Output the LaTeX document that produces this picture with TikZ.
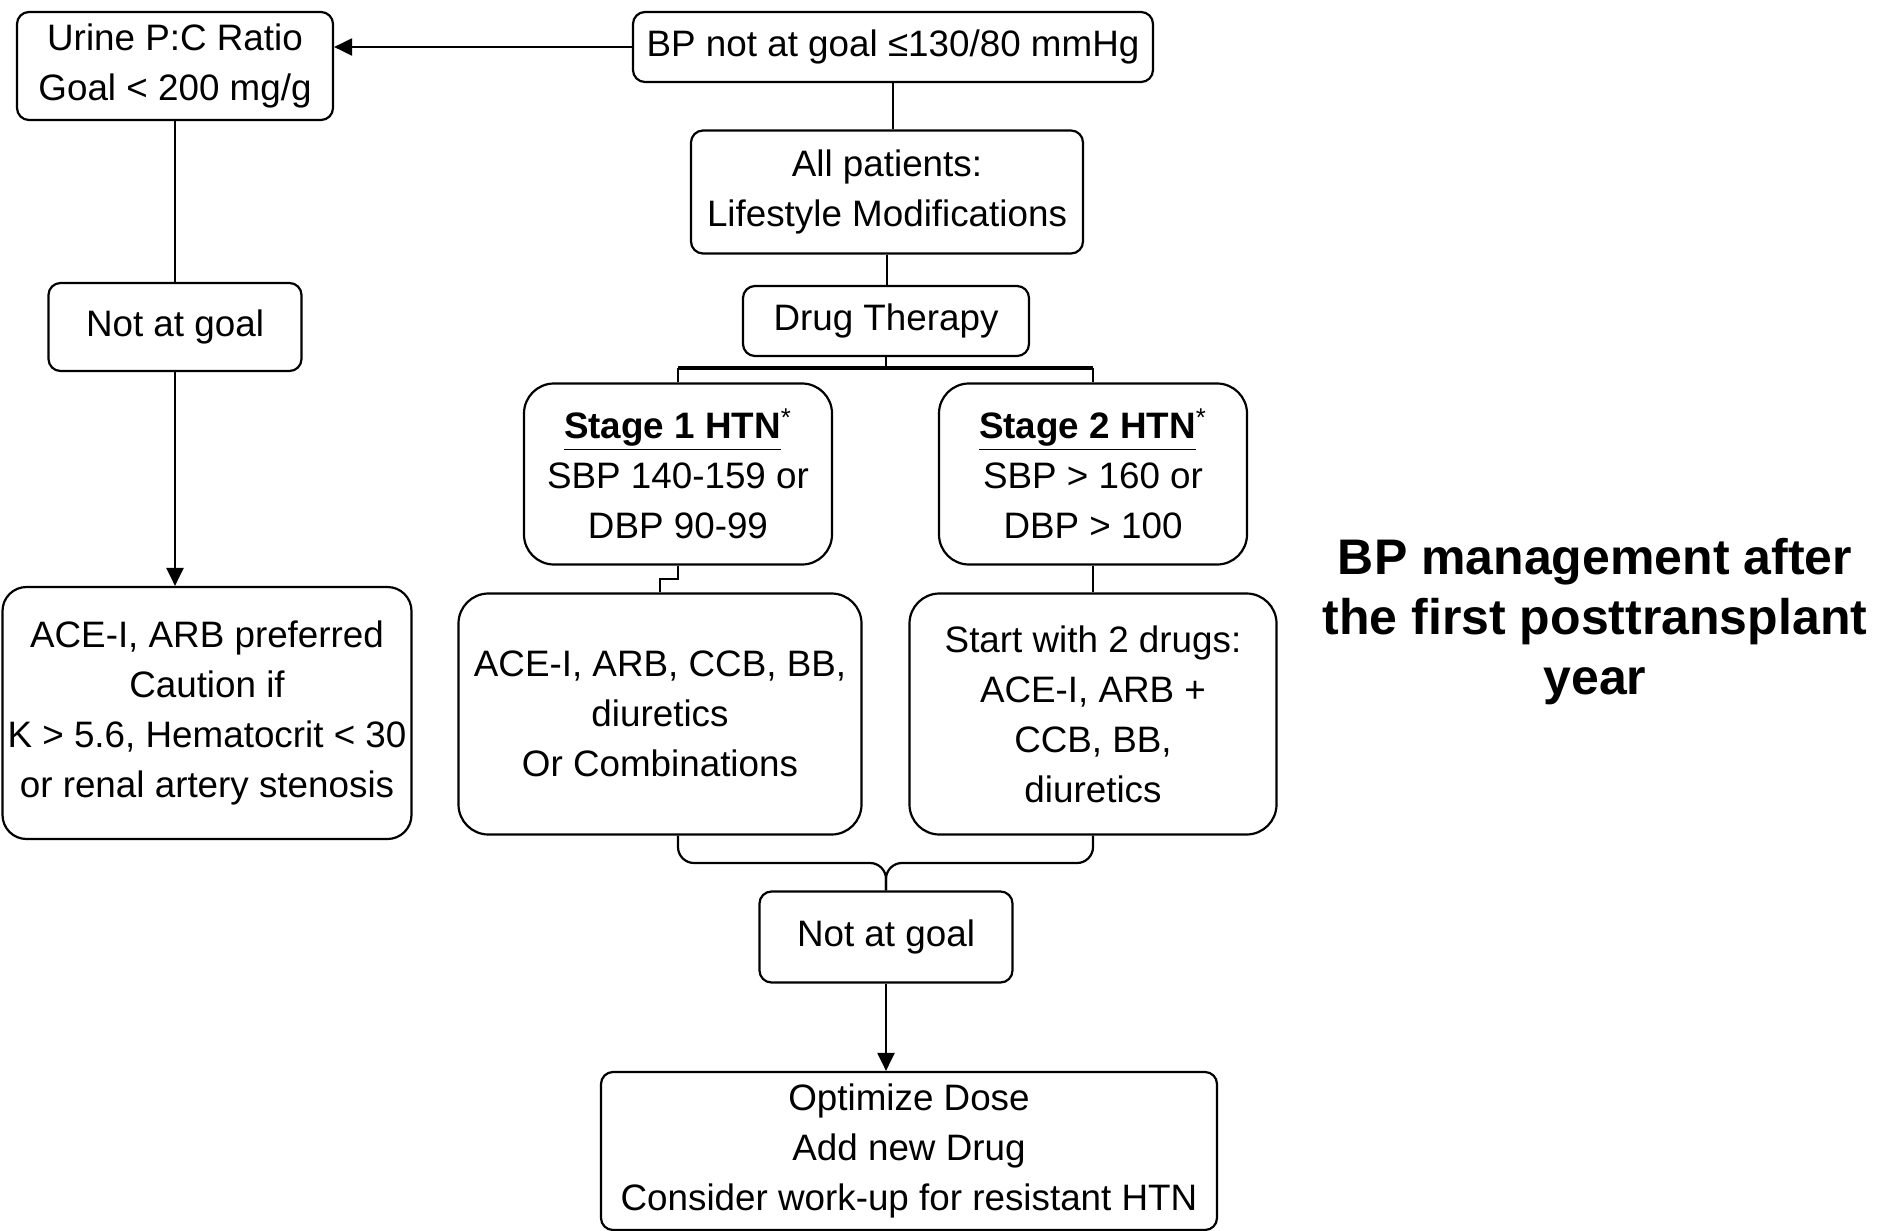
\documentclass[tikz,border=0pt]{standalone}
\usepackage{fontspec}
\setmainfont{Liberation Sans}
\usetikzlibrary{arrows.meta}
\begin{document}
\begin{tikzpicture}[x=0.5pt, y=-0.5pt]
  \tikzstyle{flowbox}=[draw, rounded corners=6pt, line width=1.1pt, align=center, inner sep=0pt,
                       font=\fontsize{18.4}{25}\selectfont]
  \tikzstyle{bigbox}=[flowbox, rounded corners=15pt]
  \tikzstyle{link}=[line width=1.1pt]
  \tikzstyle{flowarrow}=[link, -{Triangle[length=9pt,width=8.5pt]}]
  \useasboundingbox (0,0) rectangle (1880,1231);

  \node[flowbox, minimum width=158pt, minimum height=54pt] (urine) at (175,66) {Urine P:C Ratio\\Goal < 200 mg/g};
  \node[flowbox, minimum width=260pt, minimum height=35pt] (bp) at (893,47) {BP not at goal ≤130/80 mmHg};
  \node[flowbox, minimum width=196pt, minimum height=61.5pt] (allpat) at (887,192) {All patients:\\Lifestyle Modifications};
  \node[flowbox, minimum width=143pt, minimum height=35pt] (drug) at (886,321) {Drug Therapy};
  \node[bigbox, minimum width=154pt, minimum height=90.5pt] (stage1) at (678,474)
       {\underline{\textbf{Stage 1 HTN}}\textsuperscript{*}\\SBP 140-159 or\\DBP 90-99};
  \node[bigbox, minimum width=154pt, minimum height=90.5pt] (stage2) at (1093,474)
       {\underline{\textbf{Stage 2 HTN}}\textsuperscript{*}\\SBP > 160 or\\DBP > 100};
  \node[bigbox, minimum width=201.5pt, minimum height=120.5pt] (drugsone) at (660,714)
       {ACE-I, ARB, CCB, BB,\\diuretics\\Or Combinations};
  \node[bigbox, minimum width=183.5pt, minimum height=120.5pt] (drugstwo) at (1093,714)
       {Start with 2 drugs:\\ACE-I, ARB +\\CCB, BB,\\diuretics};
  \node[flowbox, minimum width=126.5pt, minimum height=45.5pt] (goalmid) at (886,937) {Not at goal};
  \node[flowbox, minimum width=308pt, minimum height=79pt] (optimize) at (909,1151)
       {Optimize Dose\\Add new Drug\\Consider work-up for resistant HTN};
  \node[flowbox, minimum width=126.5pt, minimum height=44pt] (goalleft) at (175,327) {Not at goal};
  \node[bigbox, rounded corners=12pt, minimum width=204.5pt, minimum height=126pt] (preferred) at (207,713)
       {ACE-I, ARB preferred\\Caution if\\K > 5.6, Hematocrit < 30\\or renal artery stenosis};

  \node[align=center, font=\fontsize{25}{30}\selectfont\bfseries] (title) at (1595,622)
       {BP management after\\the first posttransplant\\year};

  \coordinate (bar) at (886,368);
  \coordinate (brace) at (886,863);

  \draw[flowarrow] (bp.west) -- (bp.west -| urine.east);
  \draw[link] (bp.south) -- (bp.south |- allpat.north);
  \draw[link] (allpat.south) -- (allpat.south |- drug.north);
  \draw[link] (drug.south) -- (bar);
  \draw[link, line width=2.4pt] (stage1.north |- bar) -- (stage2.north |- bar);
  \draw[link] (stage1.north |- bar) -- (stage1.north);
  \draw[link] (stage2.north |- bar) -- (stage2.north);
  \draw[link] (stage1.south) -- ++(0,13) -| (drugsone.north);
  \draw[link] (stage2.south) -- (drugstwo.north);
  \draw[link, rounded corners=8pt] (stage1.south |- drugsone.south) -- (stage1.south |- brace) -| (goalmid.north);
  \draw[link, rounded corners=8pt] (drugstwo.south) -- (drugstwo.south |- brace) -| (goalmid.north);
  \draw[flowarrow] (goalmid.south) -- (goalmid.south |- optimize.north);
  \draw[link] (urine.south) -- (goalleft.north);
  \draw[flowarrow] (goalleft.south) -- (goalleft.south |- preferred.north);
\end{tikzpicture}
\end{document}
